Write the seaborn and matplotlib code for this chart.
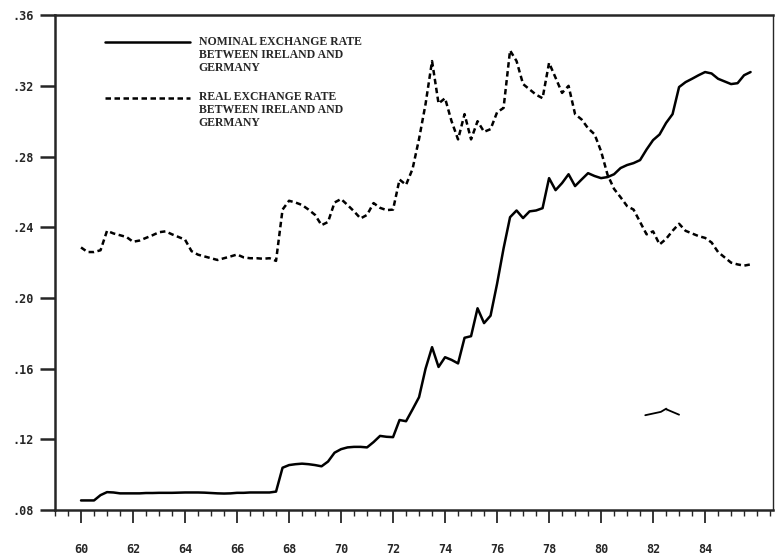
import numpy as np
import pandas as pd
import seaborn as sns
import matplotlib.pyplot as plt
from matplotlib.lines import Line2D
from matplotlib.legend_handler import HandlerLine2D
from matplotlib.ticker import MultipleLocator, FuncFormatter

# quarterly values, 1960Q1 .. 1985Q4
nominal = [
    .0855, .0855, .0855, .0885,
    .0902, .0900, .0895, .0895,
    .0895, .0895, .0897, .0897,
    .0898, .0898, .0898, .0899,
    .0900, .0900, .0900, .0899,
    .0897, .0895, .0894, .0895,
    .0898, .0898, .0900, .0900,
    .0900, .0900, .0905, .1040,
    .1055, .1060, .1063, .1060,
    .1055, .1048, .1075, .1125,
    .1145, .1155, .1158, .1158,
    .1155, .1185, .1220, .1215,
    .1213, .1310, .1303, .1370,
    .1439, .1600, .1722, .1610,
    .1665, .1650, .1630, .1775,
    .1784, .1942, .1858, .1900,
    .2080, .2280, .2457, .2495,
    .2452, .2490, .2495, .2508,
    .2678, .2610, .2650, .2700,
    .2633, .2670, .2706, .2690,
    .2678, .2684, .2700, .2735,
    .2752, .2763, .2780, .2840,
    .2893, .2925, .2990, .3040,
    .3193, .3221, .3240, .3260,
    .3278, .3270, .3240, .3225,
    .3210, .3215, .3260, .3278,
]
real = [
    .2286, .2260, .2260, .2270,
    .2380, .2365, .2355, .2345,
    .2318, .2325, .2340, .2355,
    .2372, .2377, .2360, .2345,
    .2330, .2265, .2245, .2235,
    .2225, .2215, .2225, .2235,
    .2246, .2230, .2225, .2225,
    .2222, .2225, .2210, .2500,
    .2550, .2540, .2526, .2500,
    .2470, .2412, .2430, .2540,
    .2560, .2526, .2490, .2450,
    .2470, .2537, .2510, .2497,
    .2500, .2670, .2640, .2730,
    .2900, .3097, .3340, .3100,
    .3130, .3000, .2897, .3040,
    .2897, .3000, .2940, .2955,
    .3050, .3075, .3400, .3340,
    .3210, .3180, .3150, .3130,
    .3330, .3246, .3160, .3200,
    .3040, .3010, .2960, .2926,
    .2830, .2697, .2617, .2570,
    .2520, .2500, .2430, .2360,
    .2377, .2303, .2334, .2380,
    .2420, .2380, .2365, .2350,
    .2340, .2314, .2260, .2230,
    .2200, .2190, .2183, .2190,
]
# short stray stroke visible around 1982-83
frag_x = [81.7, 82.3, 82.5, 82.5, 82.55, 83.0]
frag_y = [.1337, .1356, .1362, .1385, .1368, .1340]

labels = ["NOMINAL EXCHANGE RATE\nBETWEEN IRELAND AND\nGERMANY",
          "REAL EXCHANGE RATE\nBETWEEN IRELAND AND\nGERMANY"]
xticks = list(range(60, 86, 2))
yticks = [.08, .12, .16, .20, .24, .28, .32, .36]

quarter = 60 + np.arange(len(nominal)) * 0.25
df = pd.DataFrame({"year": quarter, "nominal": nominal, "real": real})
frag = pd.DataFrame({"year": frag_x, "value": frag_y})

sns.set_style("ticks")
plt.rcParams["font.family"] = ["DejaVu Sans Mono", "DejaVu Sans"]


class FirstLineHandler(HandlerLine2D):
    # put the legend sample next to the first line of a multi-line label
    def create_artists(self, legend, orig_handle, xdescent, ydescent,
                       width, height, fontsize, trans):
        arts = super().create_artists(legend, orig_handle, xdescent, ydescent,
                                      width, height, fontsize, trans)
        for a in arts:
            a.set_ydata(np.asarray(a.get_ydata()) + fontsize * 1.1)
        return arts


fig = plt.figure(figsize=(7.75, 5.6), dpi=100)
ax = fig.add_axes([0.071, 0.089, 0.926, 0.884])

sns.lineplot(data=df, x="year", y="nominal", ax=ax, color="black",
             linewidth=1.8, label=labels[0])
sns.lineplot(data=df, x="year", y="real", ax=ax, color="black",
             linewidth=1.8, linestyle=(0, (2.2, 1.4)), label=labels[1])
sns.lineplot(data=frag, x="year", y="value", ax=ax, color="black",
             linewidth=1.3, label="_nolegend_")

ax.set_xlim(59.0, 86.6)
ax.set_ylim(0.08, 0.36)
ax.set_xticks(xticks)
ax.xaxis.set_minor_locator(MultipleLocator(0.5))
ax.set_yticks(yticks)
ax.yaxis.set_major_formatter(FuncFormatter(lambda v, p: f"{v:.2f}".lstrip("0")))
ax.set_xlabel("")
ax.set_ylabel("")

for side in ["left", "bottom", "top"]:
    ax.spines[side].set_linewidth(1.8)
ax.spines["right"].set_linewidth(1.0)

ax.tick_params(axis="y", which="major", length=11, width=1.8, pad=4,
               labelsize=8.5)
ax.tick_params(axis="x", which="major", length=9.5, width=1.3, pad=14,
               labelsize=8.5)
ax.tick_params(axis="x", which="minor", length=4, width=1.0)
for t in ax.get_xticklabels() + ax.get_yticklabels():
    t.set_fontweight("bold")

leg = ax.legend(handler_map={Line2D: FirstLineHandler()}, loc="upper left",
                bbox_to_anchor=(0.07, 0.958), frameon=False, borderpad=0,
                borderaxespad=0, handlelength=7.2, handletextpad=0.7,
                labelspacing=1.5,
                prop={"family": "Liberation Serif", "weight": "bold",
                      "size": 8.5})
for t in leg.get_texts():
    t.set_linespacing(1.1)

fig.savefig("out.png", dpi=100)
